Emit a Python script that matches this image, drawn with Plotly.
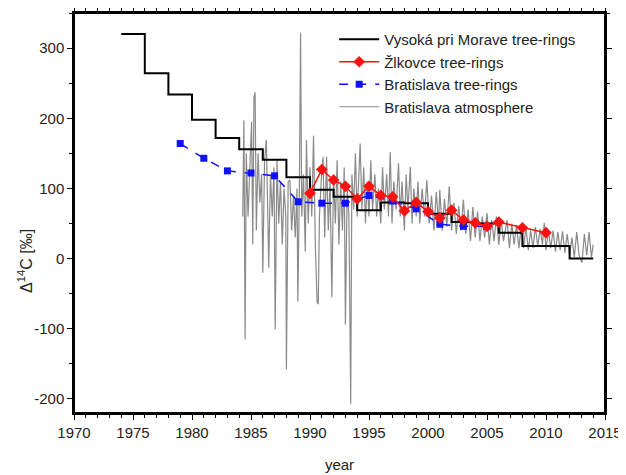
import plotly.graph_objects as go

# Vysoka pri Morave tree-rings (step, value holds until next year)
vys_year = [1974, 1976, 1978, 1980, 1982, 1984, 1986, 1988, 1990, 1992, 1994, 1996, 1998,
            2000, 2002, 2004, 2006, 2008, 2012, 2014]
vys_d14c = [320, 264, 234, 198, 172, 156, 141, 116, 98, 88, 69, 80, 79,
            64, 52, 50, 37, 18, 0, 0]

# Zlkovce tree-rings
zlk_year = [1990, 1991, 1992, 1993, 1994, 1995, 1996, 1997, 1998, 1999, 2000, 2001, 2002,
            2003, 2004, 2005, 2006, 2008, 2010]
zlk_d14c = [93, 127, 112, 103, 85, 103, 90, 88, 68, 80, 67, 58, 69,
            55, 51, 46, 52, 44, 37]

# Bratislava tree-rings
bra_year = [1979, 1981, 1983, 1985, 1987, 1989, 1991, 1993, 1995, 1997, 1999, 2001, 2003, 2005]
bra_d14c = [164, 143, 125, 122, 118, 81, 79, 79, 90, 82, 71, 49, 46, 46]

# Bratislava atmosphere
atm_year = [1984.3, 1984.4, 1984.5, 1984.6, 1984.75, 1984.9, 1985.05, 1985.15, 1985.25, 1985.35,
            1985.45, 1985.6, 1985.75, 1985.9, 1986.0, 1986.15, 1986.3, 1986.45, 1986.5, 1986.65,
            1986.8, 1986.95, 1987.05, 1987.2, 1987.35, 1987.5, 1987.65, 1987.8, 1987.95, 1988.0,
            1988.15, 1988.3, 1988.45, 1988.6, 1988.75, 1988.9, 1988.97, 1989.1, 1989.2, 1989.3,
            1989.45, 1989.6, 1989.7, 1989.85, 1990.0, 1990.15, 1990.3, 1990.45, 1990.6, 1990.7,
            1990.8, 1990.95, 1991.1, 1991.25, 1991.4, 1991.55, 1991.7, 1991.85, 1992.0, 1992.15,
            1992.3, 1992.45, 1992.6, 1992.75, 1992.9, 1993.0, 1993.15, 1993.3, 1993.45, 1993.55,
            1993.7, 1993.85, 1994.0, 1994.25, 1994.4, 1994.55, 1994.7, 1994.85, 1995.0, 1995.15,
            1995.3, 1995.5, 1995.65, 1995.8, 1996.0, 1996.15, 1996.3, 1996.5, 1996.65, 1996.8,
            1996.95, 1997.1, 1997.3, 1997.5, 1997.65, 1997.8, 1998.0, 1998.15, 1998.3, 1998.5,
            1998.65, 1998.8, 1999.0, 1999.15, 1999.3, 1999.5, 1999.7, 1999.9, 2000.1, 2000.3,
            2000.5, 2000.7, 2000.9, 2001.0, 2001.2, 2001.4, 2001.6, 2001.8, 2002.0, 2002.2,
            2002.4, 2002.6, 2002.8, 2003.0, 2003.2, 2003.4, 2003.6, 2003.8, 2004.0, 2004.2,
            2004.4, 2004.6, 2004.8, 2005.0, 2005.2, 2005.4, 2005.6, 2005.8, 2006.0, 2006.2,
            2006.4, 2006.7, 2006.9, 2007.1, 2007.3, 2007.5, 2007.7, 2007.9, 2008.1, 2008.3,
            2008.5, 2008.7, 2008.9, 2009.1, 2009.3, 2009.5, 2009.7, 2009.85, 2010.0, 2010.2,
            2010.4, 2010.6, 2010.8, 2011.0, 2011.2, 2011.4, 2011.6, 2011.8, 2012.0, 2012.2,
            2012.4, 2012.6, 2012.8, 2013.05, 2013.25, 2013.45, 2013.65, 2013.85, 2014.0]
atm_d14c = [60, 197, -115, 150, 60, 140, 195, 20, 230, 237,
            40, 150, 80, 120, -20, 140, 169, 40, -13, 120,
            60, 130, -101, 140, 50, 110, 20, 100, 60, -158,
            110, 112, 40, 90, 30, 100, -61, 100, 322, 60,
            120, 10, 169, 50, 130, 60, 175, 20, -62, -65,
            60, 110, 145, 30, 145, 40, 110, -55, 120, 50,
            140, 20, 110, 40, 130, -94, 100, 60, -207, 120,
            70, 150, 60, 164, 70, 130, 50, 110, 60, 140,
            70, 120, 60, 100, 50, 130, 70, 120, 60, 152,
            50, 110, 70, 136, 60, 110, 40, 120, 70, 131,
            50, 100, 60, 110, 50, 100, 60, 112, 50, 90,
            40, 95, 50, 98, 40, 85, 45, 103, 40, 80,
            35, 75, 40, 84, 35, 70, 25, 74, 30, 67,
            25, 60, 30, 65, 20, 55, 25, 60, 20, 55,
            25, 55, 15, 50, 20, 48, 15, 45, 15, 45,
            12, 40, 15, 45, 18, 42, 20, 51, 12, 40,
            15, 40, 10, 38, 12, 39, 8, 35, 5, 30,
            2, 38, 5, -6, 35, 5, 38, 2, 20]

# tick labels (hyphen minus like the original)
y_ticks = [-200, -100, 0, 100, 200, 300]
y_ticktext = ["-200", "-100", "0", "100", "200", "300"]

font = "Arial, Liberation Sans, sans-serif"

fig = go.Figure()
# atmosphere first so it sits behind the tree-ring series
fig.add_trace(go.Scatter(x=atm_year, y=atm_d14c, mode="lines", name="Bratislava atmosphere",
                         line=dict(color="#8a8a8a", width=1.2), legendrank=4))
fig.add_trace(go.Scatter(x=vys_year, y=vys_d14c, mode="lines", name="Vysoká pri Morave tree-rings",
                         line=dict(color="black", width=2, shape="hv"), legendrank=1))
fig.add_trace(go.Scatter(x=bra_year, y=bra_d14c, mode="lines+markers", name="Bratislava tree-rings",
                         line=dict(color="#1010ff", width=1.5, dash="dash"),
                         marker=dict(symbol="square", size=7, color="#1010ff"), legendrank=3))
fig.add_trace(go.Scatter(x=zlk_year, y=zlk_d14c, mode="lines+markers", name="Žlkovce tree-rings",
                         line=dict(color="#ff1010", width=1.5),
                         marker=dict(symbol="diamond", size=9, color="#ff1010"), legendrank=2))

axis_common = dict(showline=True, linecolor="black", linewidth=1.5, mirror="allticks",
                   ticks="outside", ticklen=5, tickcolor="black", showgrid=False, zeroline=False,
                   automargin=False, tickfont=dict(family=font, size=15, color="#222"))

fig.update_xaxes(range=[1970, 2015], dtick=5, tick0=1970,
                 minor=dict(dtick=1, ticks="outside", ticklen=3, tickcolor="black"),
                 title=dict(text="year", font=dict(family=font, size=15, color="#222"), standoff=20),
                 **axis_common)
fig.update_yaxes(range=[-220, 350], tickvals=y_ticks, ticktext=y_ticktext,
                 minor=dict(dtick=50, ticks="outside", ticklen=3, tickcolor="black"),
                 **axis_common)

# frame round the plot area
fig.add_shape(type="rect", xref="paper", yref="paper", x0=0, y0=0, x1=1, y1=1,
              line=dict(color="black", width=2), layer="above")

fig.add_annotation(text="Δ<sup>14</sup>C [‰]", xref="paper", yref="paper", x=-0.115, y=0.38,
                   textangle=-90, showarrow=False, font=dict(family=font, size=16, color="#222"))

# page body has an 8px margin at left/top, so the figure is 8px smaller
fig.update_layout(
    width=618, height=467,
    margin=dict(l=66, r=21, t=5, b=62),
    plot_bgcolor="white", paper_bgcolor="white",
    legend=dict(x=0.49, y=0.975, xanchor="left", yanchor="top", bgcolor="rgba(0,0,0,0)",
                font=dict(family=font, size=15, color="#222"), traceorder="normal",
                tracegroupgap=0, itemwidth=40),
)

fig.write_html("out.html")
